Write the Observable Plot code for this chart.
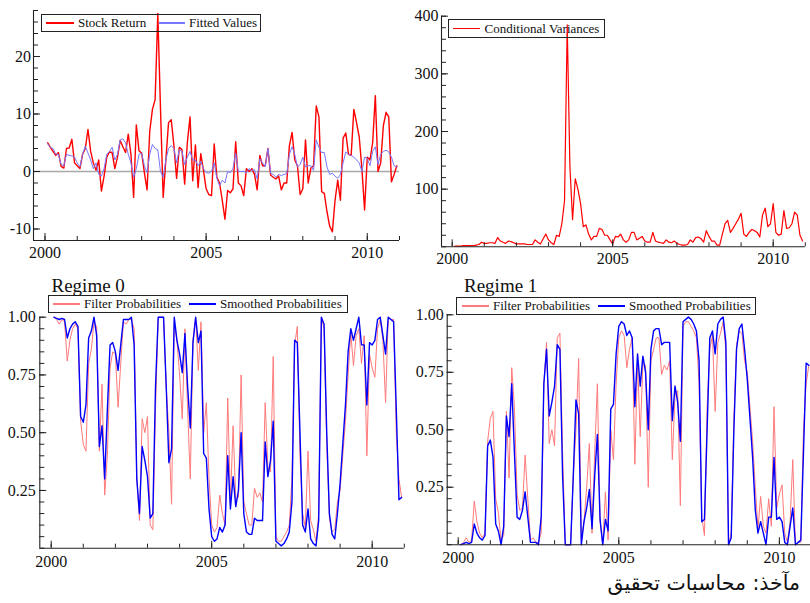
<!DOCTYPE html>
<html><head><meta charset="utf-8">
<script src="https://cdn.jsdelivr.net/npm/d3@7"></script>
<script src="https://cdn.jsdelivr.net/npm/@observablehq/plot@0.6"></script>
<style>
body{margin:0;background:#fff;}
#wrap{position:relative;width:810px;height:603px;overflow:hidden;font-family:"Liberation Serif","Times New Roman",serif;color:#111;background:#fff;}
#wrap svg text{font-family:"Liberation Serif","Times New Roman",serif !important;font-size:16px !important;}
.panel{position:absolute;}
.legend{position:absolute;border:1px solid #222;box-sizing:border-box;font-size:13px;white-space:nowrap;font-family:"Liberation Serif","Times New Roman",serif;}
.legend .sw{position:absolute;}
.legend .tx{position:absolute;top:0;}
.title{position:absolute;font-size:19px;line-height:1;font-family:"Liberation Serif","Times New Roman",serif;}
.caption{position:absolute;right:10px;top:573px;font-family:"DejaVu Sans",sans-serif;font-size:20.5px;direction:rtl;line-height:1;}
</style>
</head><body>
<div id="wrap"></div>
<script>
// ---- data: monthly, 2000M2 .. 2010M12 (131 observations)
const startYear = 2000, startMonth = 2, nObs = 131;

const stockReturn = [
  5.0, 4.2, 3.5, 2.8, 3.3, 0.9, 0.6, 4.0, 4.1, 5.6, 1.5,
  1.0, 0.5, 3.0, 4.0, 7.3, 3.5, 1.5, 0.2, 2.0, -3.4, -0.8, 2.5,
  3.4, 3.3, 0.5, 2.5, 5.4, 4.3, 3.3, 6.5, 3.0, -4.5, 8.1, 3.6,
  3.2, -0.2, -3.2, 7.0, 10.8, 12.5, 27.5, 11.0, -4.5, 2.0, 8.5, 9.0,
  4.5, -1.2, 4.2, 3.8, -2.2, 5.0, 9.5, -1.6, 4.6, -2.8, 3.1, 0.2,
  -3.0, -4.0, -4.2, 4.8, -1.0, -2.0, -5.0, -8.3, -3.3, -3.7, -3.0, 5.2,
  -2.0, -2.5, -4.2, 0.5, 0.0, 0.5, -0.5, -3.2, 2.8, 1.0, 1.0, 4.0,
  -0.6, -1.0, -1.3, -0.8, -3.2, -2.0, -2.0, 4.5, 6.8, 2.0, 1.0, -4.0,
  -3.0, 5.5, -2.0, 0.6, 1.0, 11.4, 9.5, -3.5, -3.8, -7.0, -9.5, -10.5,
  -5.0, -1.5, -5.0, 5.8, 6.7, 3.0, 2.8, 10.8, 8.5, 6.0, 0.5, -6.7,
  2.5, 2.0, 5.0, 13.2, 0.0, 1.5, 8.0, 10.3, 9.5, -1.8, -0.5, 1.0
];
const fittedValues = [
  4.8, 4.2, 4.0, 3.0, 3.0, 1.2, 1.0, 3.0, 2.8, 2.7, 2.5,
  1.5, 0.8, 3.0, 4.4, 3.2, 2.0, 0.5, 1.5, -0.5, -0.8, 0.5, 3.0,
  3.5, 4.2, 2.0, 3.0, 5.5, 5.7, 5.0, 3.0, 1.5, -1.0, 0.5, 3.0,
  3.2, 1.0, -0.2, 3.0, 4.7, 4.0, 3.8, 0.0, -1.0, 2.0, 4.0, 4.5,
  4.0, 1.5, 3.8, 3.5, 1.2, 2.5, 3.5, 2.0, 2.0, 1.0, 1.8, 0.5,
  -0.2, -0.3, 0.0, 1.5, -1.2, -2.5, -1.5, -2.0, 0.0, -0.2, 0.5, 3.2,
  0.0, 0.0, 0.0, -0.2, 0.5, 0.2, 0.3, -1.3, 2.2, 1.5, 0.8, 4.0,
  -0.3, -0.5, -1.0, -0.5, -0.7, -0.5, -0.4, 3.0, 4.3, 3.0, 0.8, 1.2,
  2.5, 0.8, 1.0, 1.0, 0.2, 5.5, 4.2, 3.3, 3.3, 0.8, -0.5, -0.3,
  -0.8, -1.2, -0.5, 1.5, 3.4, 3.0, 2.8, 2.5, 2.0, 1.5, 0.0, 2.5,
  2.3, 1.0, 3.5, 4.3, 1.2, 3.0, 3.5, 3.7, 3.4, 2.5, 1.0, 0.8
];
const conditionalVariances = [
  1, 1, 1, 2, 2, 2, 2, 2, 3, 4, 8,
  6, 6, 7, 7, 6, 16, 10, 8, 6, 10, 9, 7,
  5, 5, 5, 5, 4, 4, 4, 12, 8, 5, 14, 22,
  12, 7, 4, 20, 18, 40, 80, 385, 140, 47, 118, 100,
  75, 35, 38, 22, 12, 18, 18, 32, 30, 20, 20, 12,
  5, 18, 17, 22, 12, 8, 12, 25, 25, 12, 15, 18,
  10, 8, 8, 25, 10, 8, 7, 6, 12, 8, 7, 10,
  6, 4, 3, 3, 4, 12, 8, 16, 17, 14, 8, 28,
  18, 10, 10, 3, 3, 22, 40, 46, 25, 32, 40, 48,
  58, 22, 18, 25, 30, 28, 25, 17, 55, 67, 35, 40,
  75, 25, 20, 22, 63, 32, 33, 40, 60, 55, 20, 10
];
const filter0 = [
  1.00, 0.99, 0.97, 0.99, 0.98, 0.81, 0.90, 0.95, 0.97, 0.95, 0.55,
  0.45, 0.42, 0.80, 0.86, 0.98, 0.96, 0.42, 0.71, 0.23, 0.40, 0.78, 0.85,
  0.84, 0.61, 0.80, 0.98, 0.97, 0.99, 0.99, 0.95, 0.30, 0.12, 0.56, 0.50,
  0.57, 0.10, 0.08, 0.60, 1.00, 1.00, 1.00, 0.70, 0.50, 0.19, 0.98, 0.90,
  0.75, 0.56, 0.95, 0.60, 0.30, 0.90, 1.00, 0.77, 0.98, 0.50, 0.63, 0.30,
  0.10, 0.07, 0.09, 0.23, 0.15, 0.10, 0.65, 0.20, 0.53, 0.21, 0.22, 0.75,
  0.20, 0.15, 0.10, 0.10, 0.26, 0.22, 0.24, 0.20, 0.63, 0.35, 0.33, 0.83,
  0.05, 0.03, 0.03, 0.05, 0.07, 0.10, 0.30, 0.88, 0.96, 0.40, 0.15, 0.09,
  0.42, 0.12, 0.08, 0.03, 0.15, 1.00, 0.95, 0.45, 0.13, 0.07, 0.08, 0.20,
  0.25, 0.40, 0.55, 0.75, 0.93, 0.79, 0.92, 0.95, 0.80, 0.92, 0.40, 0.84,
  0.78, 0.74, 0.95, 0.99, 0.90, 0.63, 1.00, 0.99, 0.99, 0.50, 0.30, 0.22
];
const smoothed0 = [
  1.00, 0.995, 0.99, 0.995, 0.99, 0.91, 0.95, 0.97, 0.98, 0.96, 0.57,
  0.545, 0.62, 0.91, 0.94, 1.00, 0.92, 0.44, 0.53, 0.30, 0.60, 0.88, 0.89,
  0.85, 0.77, 0.88, 0.99, 0.99, 0.99, 1.00, 0.88, 0.30, 0.15, 0.44, 0.38,
  0.31, 0.13, 0.15, 0.70, 1.00, 1.00, 1.00, 0.70, 0.37, 0.43, 1.00, 0.90,
  0.84, 0.76, 0.93, 0.70, 0.52, 0.89, 1.00, 0.89, 0.94, 0.41, 0.39, 0.17,
  0.05, 0.03, 0.04, 0.09, 0.07, 0.10, 0.40, 0.17, 0.31, 0.18, 0.25, 0.50,
  0.15, 0.07, 0.06, 0.06, 0.13, 0.12, 0.12, 0.12, 0.46, 0.31, 0.38, 0.55,
  0.03, 0.02, 0.01, 0.02, 0.04, 0.07, 0.20, 0.90, 0.89, 0.50, 0.10, 0.07,
  0.17, 0.04, 0.02, 0.01, 0.12, 1.00, 0.97, 0.50, 0.15, 0.06, 0.04, 0.15,
  0.28, 0.45, 0.62, 0.85, 0.95, 0.90, 0.95, 1.00, 0.88, 0.88, 0.62, 0.89,
  0.88, 0.90, 0.99, 1.00, 0.92, 0.84, 1.00, 0.99, 0.98, 0.60, 0.21, 0.22
];
const filter1 = [
  0.00, 0.01, 0.03, 0.01, 0.02, 0.19, 0.10, 0.05, 0.03, 0.05, 0.45,
  0.55, 0.58, 0.20, 0.14, 0.02, 0.04, 0.58, 0.29, 0.77, 0.60, 0.22, 0.15,
  0.16, 0.39, 0.20, 0.02, 0.03, 0.01, 0.01, 0.05, 0.70, 0.88, 0.44, 0.50,
  0.43, 0.90, 0.92, 0.40, 0.00, 0.00, 0.00, 0.30, 0.50, 0.81, 0.02, 0.10,
  0.25, 0.44, 0.05, 0.40, 0.70, 0.10, 0.00, 0.23, 0.02, 0.50, 0.37, 0.70,
  0.90, 0.93, 0.91, 0.77, 0.85, 0.90, 0.35, 0.80, 0.47, 0.79, 0.78, 0.25,
  0.80, 0.85, 0.90, 0.90, 0.74, 0.78, 0.76, 0.80, 0.37, 0.65, 0.67, 0.17,
  0.95, 0.97, 0.97, 0.95, 0.93, 0.90, 0.70, 0.12, 0.04, 0.60, 0.85, 0.91,
  0.58, 0.88, 0.92, 0.97, 0.85, 0.00, 0.05, 0.55, 0.87, 0.93, 0.92, 0.80,
  0.75, 0.60, 0.45, 0.25, 0.07, 0.21, 0.08, 0.05, 0.20, 0.08, 0.60, 0.16,
  0.22, 0.26, 0.05, 0.01, 0.10, 0.37, 0.00, 0.01, 0.01, 0.50, 0.70, 0.78
];
const smoothed1 = [
  0.00, 0.005, 0.01, 0.005, 0.01, 0.09, 0.05, 0.03, 0.02, 0.04, 0.43,
  0.455, 0.38, 0.09, 0.06, 0.00, 0.08, 0.56, 0.47, 0.70, 0.40, 0.12, 0.11,
  0.15, 0.23, 0.12, 0.01, 0.01, 0.01, 0.00, 0.12, 0.70, 0.85, 0.56, 0.62,
  0.69, 0.87, 0.85, 0.30, 0.00, 0.00, 0.00, 0.30, 0.63, 0.57, 0.00, 0.10,
  0.16, 0.24, 0.07, 0.30, 0.48, 0.11, 0.00, 0.11, 0.06, 0.59, 0.61, 0.83,
  0.95, 0.97, 0.96, 0.91, 0.93, 0.90, 0.60, 0.83, 0.69, 0.82, 0.75, 0.50,
  0.85, 0.93, 0.94, 0.94, 0.87, 0.88, 0.88, 0.88, 0.54, 0.69, 0.62, 0.45,
  0.97, 0.98, 0.99, 0.98, 0.96, 0.93, 0.80, 0.10, 0.11, 0.50, 0.90, 0.93,
  0.83, 0.96, 0.98, 0.99, 0.88, 0.00, 0.03, 0.50, 0.85, 0.94, 0.96, 0.85,
  0.72, 0.55, 0.38, 0.15, 0.05, 0.10, 0.05, 0.00, 0.12, 0.12, 0.38, 0.11,
  0.12, 0.10, 0.01, 0.00, 0.08, 0.16, 0.00, 0.01, 0.02, 0.40, 0.79, 0.78
];

// tick labels
const yearLabels = [2000, 2005, 2010];
const yearTicks = [2000, 2001, 2002, 2003, 2004, 2005, 2006, 2007, 2008, 2009, 2010, 2011];
const returnTickLabels = [-10, 0, 10, 20];
const varianceTickLabels = [100, 200, 300, 400];
const probTickLabels = [0.25, 0.50, 0.75, 1.00];

// time coordinate of each observation
const t = d3.range(nObs).map(i => startYear + (startMonth - 1 + i) / 12);

const wrap = document.getElementById("wrap");
const AX = "#222";
const SERIF = "Liberation Serif";

function panel(o) {
  const iw = o.width - o.mL - o.mR, ih = o.height - o.mT - o.mB;
  const marks = [];
  if (o.zero) marks.push(Plot.ruleY([0], {stroke: "#a9a9a9", strokeWidth: 1.6}));
  for (const s of o.series) {
    marks.push(Plot.line(s.values, {x: (d, i) => t[i], y: d => d, stroke: s.color, strokeWidth: s.width, strokeLinejoin: "round"}));
  }
  marks.push(Plot.ruleX([o.xDomain[0]], {stroke: AX, strokeWidth: 1.1}));
  marks.push(Plot.ruleY([o.yDomain[0]], {stroke: AX, strokeWidth: 1.1}));
  marks.push(Plot.tickY(o.minorY, {y: d => d, insetRight: iw - 5, stroke: AX}));
  marks.push(Plot.tickY(o.majorY, {y: d => d, insetRight: iw - 7, stroke: AX}));
  marks.push(Plot.tickX(yearTicks, {x: d => d, insetTop: ih - 4, stroke: AX}));
  marks.push(Plot.tickX(yearLabels, {x: d => d, insetTop: ih - 7, stroke: AX}));
  marks.push(Plot.axisX({ticks: yearLabels, tickSize: 0, tickPadding: o.xPad, tickFormat: d => String(d), label: null, fontFamily: SERIF, fontSize: 16, fill: "#111"}));
  marks.push(Plot.axisY({ticks: o.majorY, tickSize: 0, tickPadding: o.yPad, tickFormat: o.yFmt, label: null, fontFamily: SERIF, fontSize: 16, fill: "#111"}));
  const svg = Plot.plot({
    width: o.width, height: o.height,
    marginLeft: o.mL, marginRight: o.mR, marginTop: o.mT, marginBottom: o.mB,
    x: {domain: o.xDomain, label: null},
    y: {domain: o.yDomain, label: null},
    style: {fontFamily: SERIF, fontSize: "16px", color: "#111", background: "transparent", overflow: "visible"},
    marks
  });
  svg.classList.add("panel");
  svg.style.left = o.left + "px";
  svg.style.top = o.top + "px";
  svg.style.position = "absolute";
  wrap.appendChild(svg);
}

function legend(o) {
  const d = document.createElement("div");
  d.className = "legend";
  Object.assign(d.style, {left: o.left + "px", top: o.top + "px", width: o.w + "px", height: o.h + "px"});
  for (const it of o.items) {
    const sw = document.createElement("div");
    sw.className = "sw";
    Object.assign(sw.style, {left: it.lx + "px", width: it.lw + "px", top: ((o.h - 2) / 2 - it.width / 2) + "px", height: it.width + "px", background: it.color});
    d.appendChild(sw);
    const tx = document.createElement("div");
    tx.className = "tx";
    tx.textContent = it.label;
    Object.assign(tx.style, {left: it.tx + "px", lineHeight: (o.h - 2) + "px"});
    d.appendChild(tx);
  }
  wrap.appendChild(d);
}

const RED = "#ff0000", FITBLUE = "#7777ff", LIGHTRED = "#ff7a7a", BLUE = "#0000ff";
const minorReturn = d3.range(-12, 28.01, 2);
const minorVar = d3.range(0, 400.1, 20);
const minorProb = d3.range(0, 1.001, 0.05);
const probFmt = d => d.toFixed(2);

// Top-left: stock return & fitted values
panel({left: 0, top: 0, width: 405, height: 262, mL: 33, mR: 6, mT: 10, mB: 22,
  xDomain: [1999.643, 2011], yDomain: [-12, 28], minorY: minorReturn, majorY: returnTickLabels,
  yFmt: d => String(d), xPad: 6, yPad: 2.5, zero: true,
  series: [{values: stockReturn, color: RED, width: 1.4}, {values: fittedValues, color: FITBLUE, width: 1}]});
// Top-right: conditional variances
panel({left: 405, top: 0, width: 405, height: 266, mL: 36, mR: 5.2, mT: 15.7, mB: 19.7,
  xDomain: [1999.667, 2011], yDomain: [0, 400], minorY: minorVar, majorY: varianceTickLabels,
  yFmt: d => String(d), xPad: 6, yPad: 3,
  series: [{values: conditionalVariances, color: RED, width: 1.2}]});
// Bottom-left: regime 0
panel({left: 0, top: 296, width: 405, height: 274, mL: 39.3, mR: 1.2, mT: 20.7, mB: 22.3,
  xDomain: [1999.645, 2011], yDomain: [0, 1], minorY: minorProb, majorY: probTickLabels,
  yFmt: probFmt, xPad: 7, yPad: 4,
  series: [{values: filter0, color: LIGHTRED, width: 1}, {values: smoothed0, color: BLUE, width: 1.4}]});
// Bottom-right: regime 1
panel({left: 405, top: 296, width: 406, height: 270, mL: 41.7, mR: 0, mT: 18.3, mB: 21.8,
  xDomain: [1999.657, 2011], yDomain: [0, 1], minorY: minorProb, majorY: probTickLabels,
  yFmt: probFmt, xPad: 7, yPad: 3.5,
  series: [{values: filter1, color: LIGHTRED, width: 1}, {values: smoothed1, color: BLUE, width: 1.4}]});

legend({left: 41, top: 14, w: 220, h: 18, items: [
  {label: "Stock Return", color: RED, width: 1.4, lx: 4, lw: 28, tx: 36},
  {label: "Fitted Values", color: FITBLUE, width: 1.1, lx: 117, lw: 26, tx: 147}]});
legend({left: 448, top: 19, w: 157, h: 19, items: [
  {label: "Conditional Variances", color: RED, width: 1.3, lx: 4, lw: 27, tx: 35.5}]});
legend({left: 47.5, top: 295, w: 300, h: 18, items: [
  {label: "Filter Probabilities", color: LIGHTRED, width: 1.1, lx: 4, lw: 27, tx: 35.5},
  {label: "Smoothed Probabilities", color: BLUE, width: 1.4, lx: 140.5, lw: 27, tx: 171.5}]});
legend({left: 456, top: 297, w: 300, h: 18, items: [
  {label: "Filter Probabilities", color: LIGHTRED, width: 1.1, lx: 5, lw: 27, tx: 36},
  {label: "Smoothed Probabilities", color: BLUE, width: 1.4, lx: 140.5, lw: 27, tx: 172}]});

for (const [txt, x] of [["Regime 0", 51.5], ["Regime 1", 464]]) {
  const d = document.createElement("div");
  d.className = "title";
  d.textContent = txt;
  d.style.left = x + "px";
  d.style.top = "276px";
  wrap.appendChild(d);
}
const cap = document.createElement("div");
cap.className = "caption";
cap.textContent = "مآخذ: محاسبات تحقیق";
wrap.appendChild(cap);
</script>
</body></html>
